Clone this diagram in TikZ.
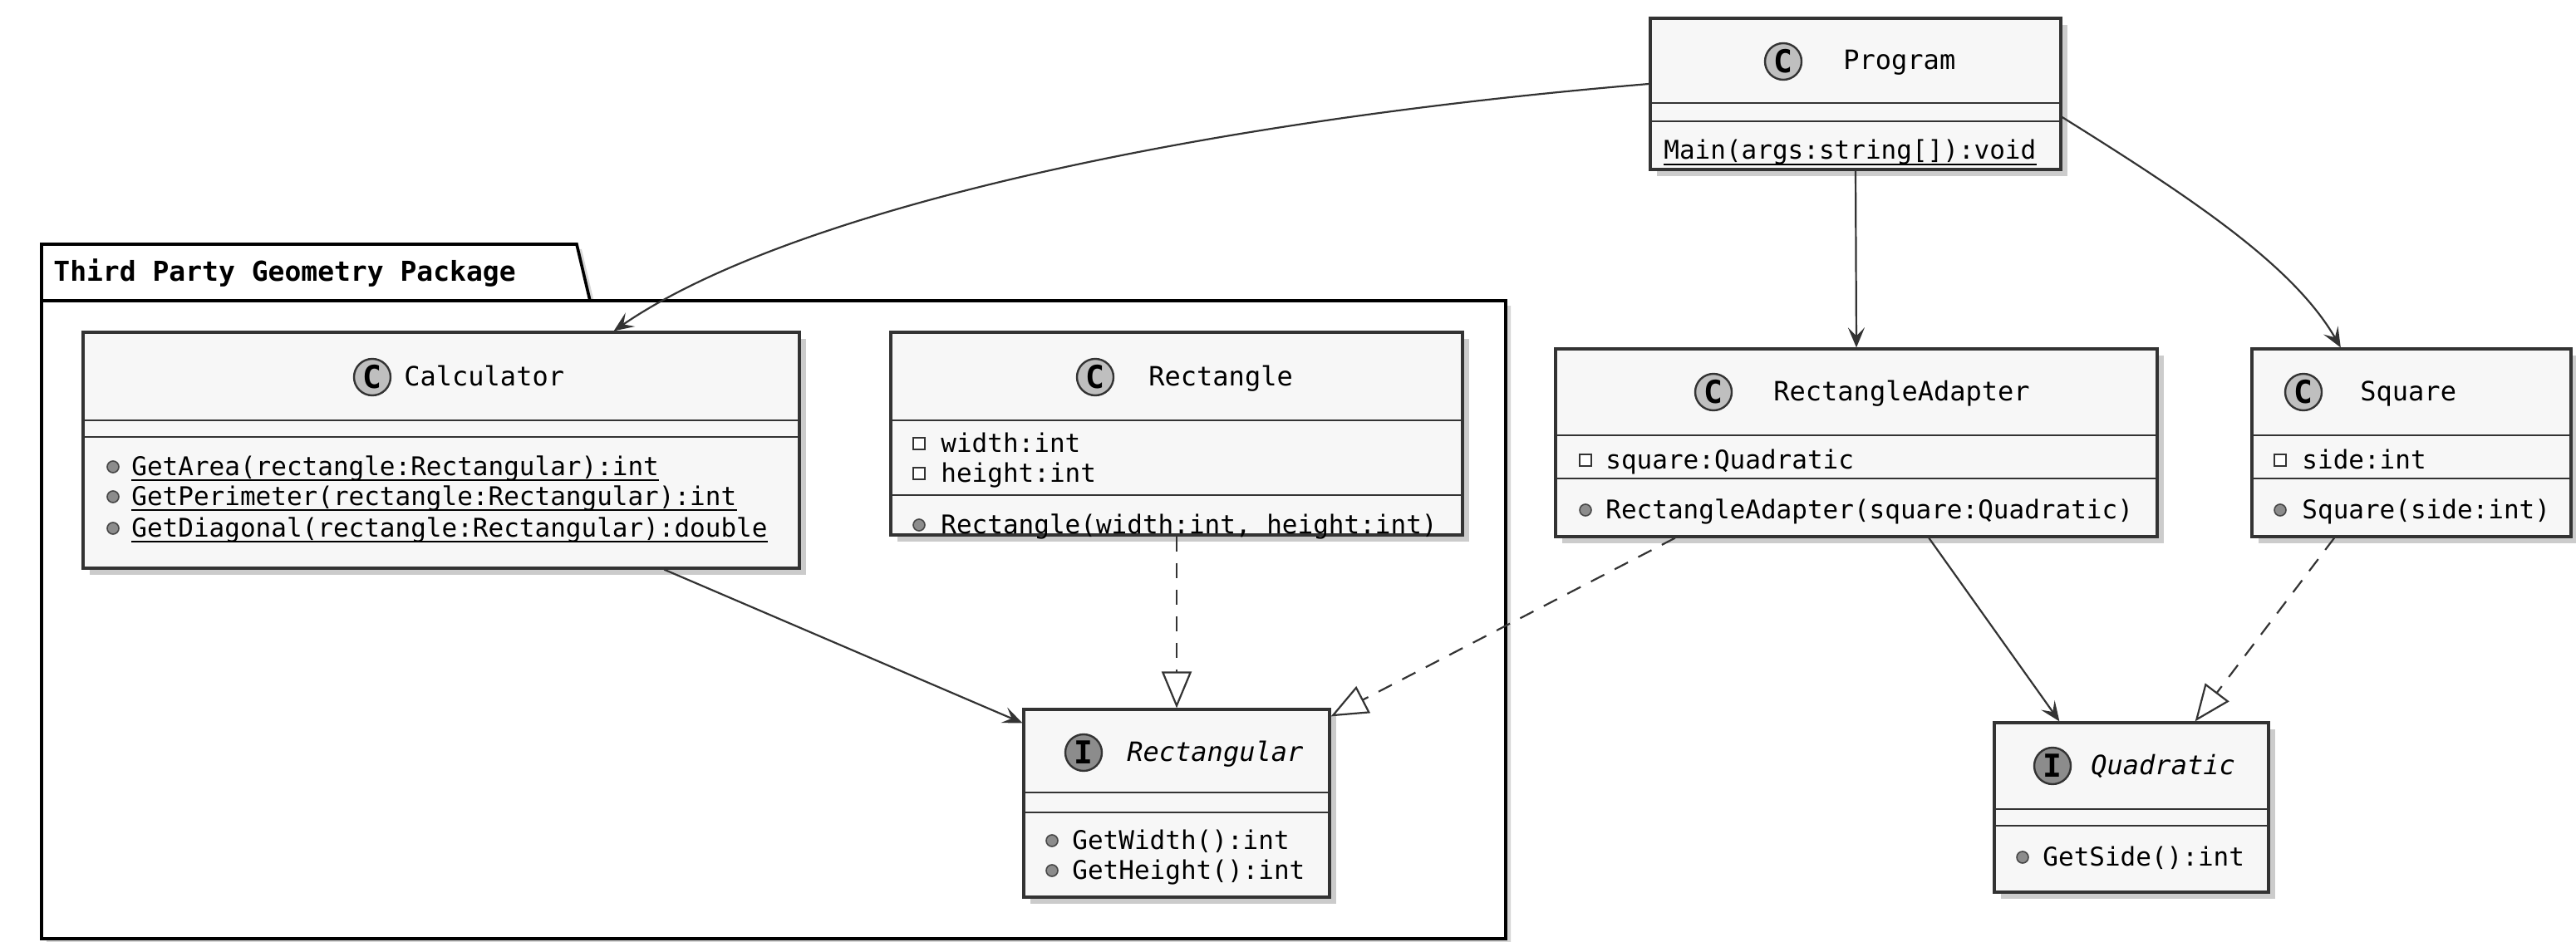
\documentclass[tikz,border=0pt]{standalone}
\usepackage{fontspec}
\setmainfont{DejaVu Sans Mono}
\usetikzlibrary{arrows.meta, calc, shadows, positioning}
\definecolor{boxfill}{HTML}{F7F7F7}
\definecolor{boxline}{HTML}{333333}
\tikzset{
  cls/.style={draw=boxline, line width=1.6pt, fill=boxfill, inner sep=0pt,
    drop shadow={shadow xshift=4pt, shadow yshift=-4pt, fill=black!40, opacity=0.5}},
  sep/.style={draw=boxline, line width=1.4pt},
  txt/.style={anchor=base west, inner sep=0pt, font=\fontsize{15.5}{18}\selectfont},
  ttl/.style={anchor=base west, inner sep=0pt, font=\fontsize{16}{18}\selectfont},
  icon/.style={circle, draw=boxline, line width=1.2pt, minimum size=22pt, inner sep=0pt,
    font=\fontsize{19}{19}\bfseries},
  pub/.style={circle, draw=boxline!90, line width=0.8pt, fill=black!45, minimum size=7pt, inner sep=0pt},
  priv/.style={rectangle, draw=boxline, line width=0.8pt, fill=white, minimum size=7pt, inner sep=0pt},
  assoc/.style={draw=boxline, line width=1.1pt, -{Stealth[length=12pt, width=10pt, inset=5pt]}},
  real/.style={draw=boxline, line width=1.1pt, dash pattern=on 9pt off 7pt,
    -{Triangle[open, length=22pt, width=18pt, fill=white]}},
}
\newcommand{\ul}[1]{\draw[line width=0.9pt] ([yshift=-3pt]#1.base west) -- ([yshift=-3pt]#1.base east);}
\begin{document}
\begin{tikzpicture}[x=1pt, y=-1pt]
\useasboundingbox (0,0) rectangle (1550,567);

% package frame
\draw[line width=1.8pt, fill=white, drop shadow={shadow xshift=3pt, shadow yshift=-3pt, fill=black!40, opacity=0.4}]
  (25,147) -- (347,147) -- (355,181) -- (906,181) -- (906,565) -- (25,565) -- cycle;
\draw[line width=1.8pt] (25,181) -- (355,181);
\node[anchor=base west, inner sep=0pt, font=\fontsize{16.5}{18}\bfseries] (pkg) at (32,169) {Third Party Geometry Package};

% Program
\node[cls, minimum width=247pt, minimum height=91pt] (prog) at (1116.5,56.5) {};
\draw[sep] (993,62) -- (1240,62) (993,73) -- (1240,73);
\node[icon, fill=black!25] (progI) at (1073,37) {C};
\node[ttl] (progN) at (1109,42) {Program};
\node[txt] (progM) at (1001,96) {Main(args:string[]):void}; \ul{progM}

% Calculator
\node[cls, minimum width=431pt, minimum height=142pt] (calc) at (265.5,271) {};
\draw[sep] (50,253) -- (481,253) (50,263) -- (481,263);
\node[icon, fill=black!25] (calcI) at (224,227) {C};
\node[ttl] (calcN) at (243,232) {Calculator};
\node[pub] at (68,281) {}; \node[txt] (calcM1) at (79,286) {GetArea(rectangle:Rectangular):int}; \ul{calcM1}
\node[pub] at (68,299) {}; \node[txt] (calcM2) at (79,304) {GetPerimeter(rectangle:Rectangular):int}; \ul{calcM2}
\node[pub] at (68,318) {}; \node[txt] (calcM3) at (79,323) {GetDiagonal(rectangle:Rectangular):double}; \ul{calcM3}

% Rectangle
\node[cls, minimum width=344pt, minimum height=122pt] (rect) at (708,261) {};
\draw[sep] (536,253) -- (880,253) (536,298) -- (880,298);
\node[icon, fill=black!25] (rectI) at (659,227) {C};
\node[ttl] (rectN) at (691,232) {Rectangle};
\node[priv] at (553,267) {}; \node[txt] at (566,272) {width:int};
\node[priv] at (553,285) {}; \node[txt] at (566,290) {height:int};
\node[pub] at (553,316) {}; \node[txt] at (566,321) {Rectangle(width:int, height:int)};

% Rectangular
\node[cls, minimum width=184pt, minimum height=113pt] (rgl) at (708,483.5) {};
\draw[sep] (616,477) -- (800,477) (616,489) -- (800,489);
\node[icon, fill=black!45] (rglI) at (652,453) {I};
\node[ttl, font=\fontsize{16}{18}\itshape] (rglN) at (678,458) {Rectangular};
\node[pub] at (633,506) {}; \node[txt] at (645,511) {GetWidth():int};
\node[pub] at (633,524) {}; \node[txt] at (645,529) {GetHeight():int};

% RectangleAdapter
\node[cls, minimum width=362pt, minimum height=113pt] (adap) at (1117,266.5) {};
\draw[sep] (936,262) -- (1298,262) (936,288) -- (1298,288);
\node[icon, fill=black!25] (adapI) at (1031,236) {C};
\node[ttl] (adapN) at (1067,241) {RectangleAdapter};
\node[priv] at (954,277) {}; \node[txt] at (966,282) {square:Quadratic};
\node[pub] at (954,307) {}; \node[txt] at (966,312) {RectangleAdapter(square:Quadratic)};

% Square
\node[cls, minimum width=192pt, minimum height=113pt] (sq) at (1451,266.5) {};
\draw[sep] (1355,262) -- (1547,262) (1355,288) -- (1547,288);
\node[icon, fill=black!25] (sqI) at (1386,236) {C};
\node[ttl] (sqN) at (1420,241) {Square};
\node[priv] at (1372,277) {}; \node[txt] at (1385,282) {side:int};
\node[pub] at (1372,307) {}; \node[txt] at (1385,312) {Square(side:int)};

% Quadratic
\node[cls, minimum width=165pt, minimum height=102pt] (quad) at (1282.5,486) {};
\draw[sep] (1200,487) -- (1365,487) (1200,497) -- (1365,497);
\node[icon, fill=black!45] (quadI) at (1235,461) {I};
\node[ttl, font=\fontsize{16}{18}\itshape] (quadN) at (1258,466) {Quadratic};
\node[pub] at (1217,516) {}; \node[txt] at (1229,521) {GetSide():int};

% connectors
\draw[assoc] ([yshift=6pt]prog.west) .. controls (700,75) and (470,130) .. ($(calc.north west)!0.74!(calc.north east)$);
\draw[assoc] (prog.south) -- (adap.north);
\draw[assoc] ([yshift=-14pt]prog.east) .. controls (1320,120) and (1380,160) .. ($(sq.north west)!0.28!(sq.north east)$);
\draw[assoc] ($(calc.south west)!0.81!(calc.south east)$) -- ([yshift=-9pt]rgl.north west);
\draw[real] (rect.south) -- (rgl.north);
\draw[real] ($(adap.south west)!0.2!(adap.south east)$) -- ([yshift=-5pt]rgl.north east);
\draw[assoc] ($(adap.south west)!0.62!(adap.south east)$) -- ($(quad.north west)!0.24!(quad.north east)$);
\draw[real] ($(sq.south west)!0.26!(sq.south east)$) -- ($(quad.north west)!0.73!(quad.north east)$);
\end{tikzpicture}
\end{document}
